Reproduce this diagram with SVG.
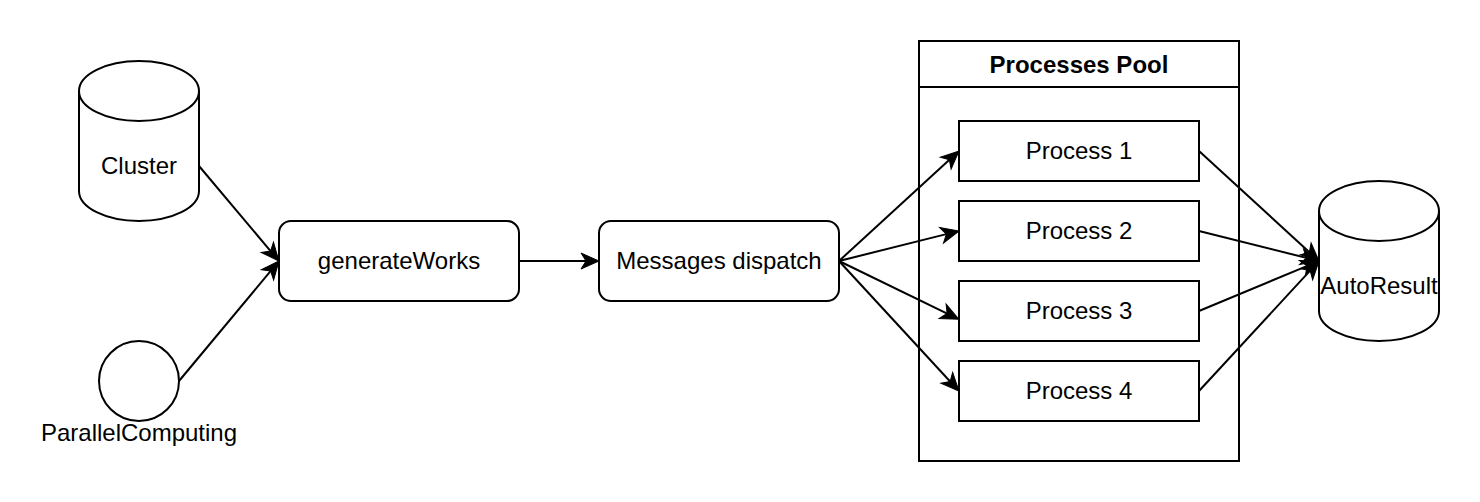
<svg xmlns="http://www.w3.org/2000/svg" width="1480" height="502" viewBox="0 0 1480 502">
<style>
.s{fill:#fff;stroke:#000;stroke-width:2}
.n{fill:none;stroke:#000;stroke-width:2}
.t{font-family:"Liberation Sans",Arial,Helvetica,sans-serif;font-size:24px;fill:#000;text-anchor:middle}
.b{font-weight:bold}
.c{fill:none;stroke:#000;stroke-width:2;marker-end:url(#ah)}
</style>
<defs>
<marker id="ah" markerUnits="userSpaceOnUse" markerWidth="20" markerHeight="18" refX="8" refY="8" orient="auto" overflow="visible">
<path d="M0,0 L18,8 L0,16 L5,8 Z" fill="#000" stroke="#000" stroke-width="1"/>
</marker>
</defs>
<rect width="1480" height="502" fill="#fff"/>
<g id="pool">
<rect class="s" x="919" y="41" width="320" height="420"/>
<line class="n" x1="919" y1="87" x2="1239" y2="87"/>
<text class="t b" x="1079" y="72.5">Processes Pool</text>
</g>
<g id="cluster">
<path class="s" d="M79,91 A60,30 0 0 1 199,91 L199,191 A60,30 0 0 1 79,191 Z"/>
<path class="n" d="M79,91 A60,30 0 0 0 199,91"/>
<text class="t" x="139" y="174">Cluster</text>
</g>
<g id="parallel">
<circle class="s" cx="139" cy="381" r="40"/>
<text class="t" x="139" y="441">ParallelComputing</text>
</g>
<g id="generateWorks">
<rect class="s" x="279" y="221" width="240" height="80" rx="12"/>
<text class="t" x="399" y="268.5">generateWorks</text>
</g>
<g id="messages">
<rect class="s" x="599" y="221" width="240" height="80" rx="12"/>
<text class="t" x="719" y="268.5">Messages dispatch</text>
</g>
<g id="p1">
<rect class="s" x="959" y="121" width="240" height="60"/>
<text class="t" x="1079" y="158.5">Process 1</text>
</g>
<g id="p2">
<rect class="s" x="959" y="201" width="240" height="60"/>
<text class="t" x="1079" y="238.5">Process 2</text>
</g>
<g id="p3">
<rect class="s" x="959" y="281" width="240" height="60"/>
<text class="t" x="1079" y="318.5">Process 3</text>
</g>
<g id="p4">
<rect class="s" x="959" y="361" width="240" height="60"/>
<text class="t" x="1079" y="398.5">Process 4</text>
</g>
<g id="autoresult">
<path class="s" d="M1319,211 A60,30 0 0 1 1439,211 L1439,311 A60,30 0 0 1 1319,311 Z"/>
<path class="n" d="M1319,211 A60,30 0 0 0 1439,211"/>
<text class="t" x="1379" y="294">AutoResult</text>
</g>
<g id="connectors">
<line class="c" x1="199" y1="166" x2="272.5" y2="253.4"/>
<line class="c" x1="179" y1="381" x2="272.6" y2="268.7"/>
<line class="c" x1="519" y1="261" x2="589" y2="261"/>
<line class="c" x1="839" y1="261" x2="951.6" y2="157.8"/>
<line class="c" x1="839" y1="261" x2="949.3" y2="233.4"/>
<line class="c" x1="839" y1="261" x2="949.8" y2="314.8"/>
<line class="c" x1="839" y1="261" x2="952.2" y2="383.7"/>
<line class="c" x1="1199" y1="151" x2="1311.6" y2="254.2"/>
<line class="c" x1="1199" y1="231" x2="1309.3" y2="258.6"/>
<line class="c" x1="1199" y1="311" x2="1309.8" y2="264.8"/>
<line class="c" x1="1199" y1="391" x2="1312.2" y2="268.4"/>
</g>
</svg>
